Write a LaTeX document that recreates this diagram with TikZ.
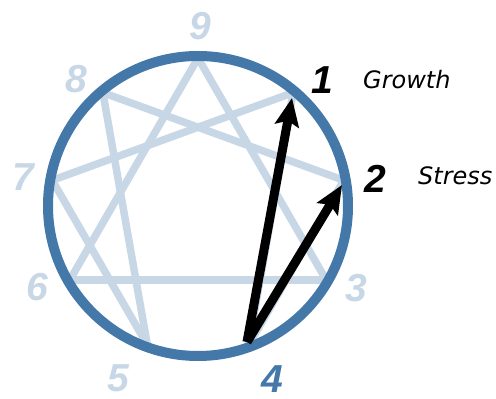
\documentclass[tikz,border=0pt]{standalone}
\usepackage{fontspec}
\setmainfont{Liberation Sans}
\newfontfamily\digitfont{Liberation Sans}
\newfontfamily\wordfont{DejaVu Sans}
\usetikzlibrary{arrows.meta,calc}
\definecolor{ringblue}{RGB}{68,120,168}
\definecolor{lightblue}{RGB}{200,215,230}
\tikzset{
  figline/.style={draw=lightblue, line width=7.5pt, line cap=butt},
  ring/.style={draw=ringblue, line width=10pt},
  movearrow/.style={draw=black, line width=9pt, -{Stealth[length=28pt,width=24pt,inset=5pt]}},
  digit/.style={inner sep=0pt, font=\digitfont\bfseries\itshape\fontsize{39}{39}\selectfont},
  word/.style={inner sep=0pt, anchor=base west, font=\wordfont\itshape\fontsize{24}{24}\selectfont}
}
\begin{document}
\begin{tikzpicture}[x=1pt,y=1pt]
\useasboundingbox (0,0) rectangle (496,399);
\coordinate (c) at (198,193);
\foreach \n/\a in {9/90,1/50,2/10,3/-30,4/-70,5/-110,6/-150,7/170,8/130}
  \coordinate (p\n) at ($(c)+(\a:148)$);
% figure lines
\foreach \u/\v in {9/3,3/6,6/9,1/4,4/2,2/8,8/5,5/7,7/1}
  \draw[figline] (p\u) -- (p\v);
% circle
\draw[ring] (c) circle (150);
% arrows
\coordinate (a4) at (247,57);
\coordinate (a1) at (292,301);
\coordinate (a2) at (342,214);
\draw[movearrow] (a4) -- (a1);
\draw[movearrow] (a4) -- (a2);
% labels
\node[digit, text=lightblue] (l9) at (200.5,373) {9};
\node[digit, text=lightblue] (l8) at (76,320) {8};
\node[digit, text=lightblue] (l7) at (23,222) {7};
\node[digit, text=lightblue] (l6) at (37,112) {6};
\node[digit, text=lightblue] (l5) at (118,21) {5};
\node[digit, text=ringblue] (l4) at (272,20) {4};
\node[digit, text=lightblue] (l3) at (356,111) {3};
\node[digit, text=black] (l2) at (375,220) {2};
\node[digit, text=black] (l1) at (322,319) {1};
\node[word] (growth) at (363,310) {Growth};
\node[word] (stress) at (418,214) {Stress};
\end{tikzpicture}
\end{document}
